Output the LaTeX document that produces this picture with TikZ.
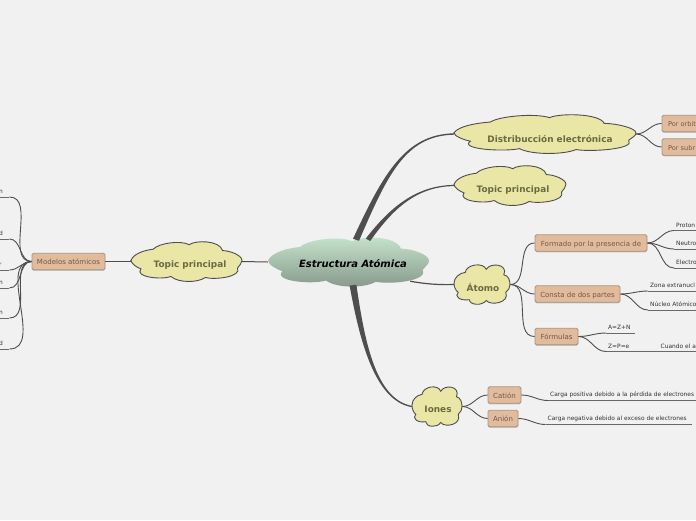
\documentclass[tikz,border=0pt]{standalone}
\usepackage{fontspec}
\setmainfont{DejaVu Sans}
\usetikzlibrary{calc,shadows}
\definecolor{pagebg}{HTML}{F1F1F1}
\definecolor{cloudfill}{HTML}{E9E6A6}
\definecolor{cloudtext}{HTML}{6B6B3E}
\definecolor{hubtop}{HTML}{C6E4CD}
\definecolor{hubbottom}{HTML}{86988B}
\definecolor{boxfill}{HTML}{E2BB9C}
\definecolor{boxline}{HTML}{A39480}
\definecolor{boxtext}{HTML}{6E5A48}
\definecolor{linkgray}{HTML}{4E4E4E}

\tikzset{
  topicbox/.style={draw=boxline, fill=boxfill, rounded corners=1.5pt, line width=.8pt,
    text=boxtext, font=\fontsize{7}{8}\selectfont, inner xsep=0pt, inner ysep=0pt,
    minimum height=16.5pt, text height=7pt, text depth=1pt,
    drop shadow={shadow xshift=0pt, shadow yshift=-1pt, opacity=.4}},
  leaf/.style={anchor=south west, inner xsep=2pt, inner ysep=3pt, align=left,
    font=\fontsize{5.9}{6.5}\selectfont, text=black!80},
  leafline/.style={draw=linkgray!85, line width=1pt},
  link/.style={draw=linkgray, line width=.9pt, out=0, in=180},
  linkback/.style={draw=linkgray, line width=.9pt, out=180, in=0},
  cloudline/.style={draw=linkgray, line width=.9pt, fill=cloudfill},
  cloudlabel/.style={text=cloudtext, font=\fontsize{8.9}{9}\bfseries\selectfont, inner sep=0pt}
}

\newcommand{\CloudWide}[5]{%
\begin{scope}[shift={(#2,#3)},xscale=#4,yscale=-#5]
  \path[#1] (-1,.06) .. controls (-.95,.42) and (-.75,.58) .. (-.6,.63)
  .. controls (-.5,.95) and (-.1,1.1) .. (.05,.86)
  .. controls (.15,1.1) and (.6,1.1) .. (.65,.56)
  .. controls (.8,.55) and (1,.3) .. (1,.06)
  .. controls (1,-.1) and (.95,-.2) .. (.92,-.33)
  .. controls (1,-.8) and (.5,-.95) .. (.34,-.82)
  .. controls (.2,-1.1) and (-.15,-1.1) .. (-.28,-.77)
  .. controls (-.45,-.95) and (-.95,-.8) .. (-.82,-.38)
  .. controls (-.9,-.3) and (-1,-.1) .. cycle;
\end{scope}}
\newcommand{\CloudRound}[5]{%
\begin{scope}[shift={(#2,#3)},xscale=#4,yscale=-#5]
  \path[#1] (-1,.07) .. controls (-1,.35) and (-.8,.6) .. (-.6,.62)
  .. controls (-.55,1.05) and (.05,1.15) .. (.15,.78)
  .. controls (.3,1.15) and (.95,1.05) .. (.78,.5)
  .. controls (.95,.45) and (1,.2) .. (1,0)
  .. controls (1,-.15) and (.95,-.3) .. (.85,-.4)
  .. controls (1,-.95) and (.3,-1.1) .. (.15,-.82)
  .. controls (0,-1.12) and (-.45,-1.05) .. (-.45,-.78)
  .. controls (-.8,-.85) and (-1,-.6) .. (-.85,-.4)
  .. controls (-.95,-.3) and (-1,-.1) .. cycle;
\end{scope}}
% start, two controls, end, half width vector at start, at end
\newcommand{\Branch}[6]{%
\fill[linkgray] ($#1+#5$) .. controls ($#2+.7*#5$) and ($#3+#6$) .. ($#4+#6$)
-- ($#4-1*#6$) .. controls ($#3-1*#6$) and ($#2-.7*#5$) .. ($#1-1*#5$) -- cycle; }

\begin{document}
\begin{tikzpicture}[x=1pt,y=-1pt]
  \clip (0,0) rectangle (696,520);
  \fill[pagebg] (0,0) rectangle (696,520);

  % clouds
  \CloudWide{top color=hubtop,bottom color=hubbottom}{348.5}{262}{80.5}{24}
  \node[minimum width=161pt, minimum height=48pt, inner sep=0pt, font=\fontsize{10}{11}\bfseries\itshape\selectfont] (hub) at (348.5,262) {\hspace*{9pt}\smash{\raisebox{-5.5pt}{Estructura Atómica}}};

  \foreach \nm/\cx/\cy/\rx/\ry/\dx/\dy/\txt in {dist/545/134/91/19/10/8/Distribucción electrónica,
    topr/510/185.5/56/19.5/6/7/Topic principal, topl/186.5/261.5/55.5/19.5/7/5.5/Topic principal}{
    \CloudWide{cloudline}{\cx}{\cy}{\rx}{\ry}
    \node[cloudlabel, minimum width=2*\rx pt, minimum height=2*\ry pt] (\nm) at (\cx,\cy) {\hspace*{\dx pt}\smash{\raisebox{-\dy pt}{\txt}}};
  }
  \foreach \nm/\cx/\cy/\rx/\ry/\dx/\dy/\txt in {atomo/482/284.5/28/19.5/2/7/Átomo, iones/437/406.5/25/19.5/2/6/Iones}{
    \CloudRound{cloudline}{\cx}{\cy}{\rx}{\ry}
    \node[cloudlabel, minimum width=2*\rx pt, minimum height=2*\ry pt] (\nm) at (\cx,\cy) {\hspace*{\dx pt}\smash{\raisebox{-\dy pt}{\txt}}};
  }

  % boxes
  \foreach \nm/\cx/\cy/\txt in {orbit/705/123.5/Por orbit, subr/705/147/Por subr}{
    \node[topicbox, text width=74pt, align=left, inner xsep=6pt, font=\fontsize{6.6}{8}\selectfont] (\nm) at (\cx,\cy) {\txt};
  }
  \foreach \nm/\cx/\cy/\w/\txt in {formado/591/243/112/Formado por la presencia de,
    consta/577.5/294/85/Consta de dos partes, formulas/556.5/336.5/43/Fórmulas,
    cation/504.5/395/33/Catión, anion/503/418.5/30/Anión,
    modelos/68.5/261.5/73/Modelos atómicos}{
    \node[topicbox, minimum width=\w pt] (\nm) at (\cx,\cy) {\txt};
  }

  % leaves
  \foreach \nm/\x/\y/\w/\txt in {proton/674/230.5/30/Proton, neutro/674/249/30/Neutro,
    electro/674/268/30/Electro, zona/648/291/56/Zona extranucl, nucleo/648/310/56/Núcleo Atómico,
    azn/606/333/25/A=Z+N, zpe/606/351.5/24/Z=P=e, cuando/658.5/351.5/33.5/\mbox{Cuando el a},
    cpos/548/400.5/156/Carga positiva debido a la pérdida de electrones,
    cneg/545.5/424.5/142/Carga negativa debido al exceso de electrones,
    ma/-3/197/8/n, mb/-3/239/8/d, mc/-3/270/8/r, md/-3/288/8/n, me/-3/318/8/n, mf/-3/349/8/d}{
    \node[leaf, text width=\w pt] (\nm) at (\x,\y) {\txt};
    \draw[leafline] (\nm.south west) -- (\nm.south east);
  }

  % main branches
  \Branch{(hub.north)+(7.5,2)}{(385,175)}{(405,135)}{(dist.west)}{(3,1)}{(0,.7)}
  \Branch{(hub.north)+(19.5,2)}{(390,210)}{(415,186)}{(topr.west)}{(2.2,1.2)}{(0,.6)}
  \Branch{(hub.south)+(4.5,-1)}{(362,340)}{(375,400)}{(iones.west)}{(3.4,-.4)}{(.3,-.6)}
  \draw[linkgray, line width=1.2pt] ($(hub.south east)+(-19,-5)$) .. controls (425,284) and (440,285) .. (atomo.west);
  \draw[linkgray, line width=1pt] (topl.east) -- (hub.west);

  % connectors
  \foreach \a/\b in {dist/orbit, dist/subr, atomo/formado, atomo/consta, atomo/formulas,
    iones/cation, iones/anion}{
    \draw[link] (\a.east) to (\b.west);
  }
  \foreach \a/\b in {formado/proton, formado/neutro, formado/electro, consta/zona, consta/nucleo,
    formulas/azn, formulas/zpe, cation/cpos, anion/cneg}{
    \draw[link] (\a.east) to (\b.south west);
  }
  \draw[leafline] (zpe.south east) -- (cuando.south west);
  \draw[linkgray, line width=.9pt] (topl.west) -- (modelos.east);
  \foreach \b in {ma,mb,mc,md,me,mf}{
    \draw[linkback] (modelos.west) to (\b.south east);
  }
\end{tikzpicture}
\end{document}
